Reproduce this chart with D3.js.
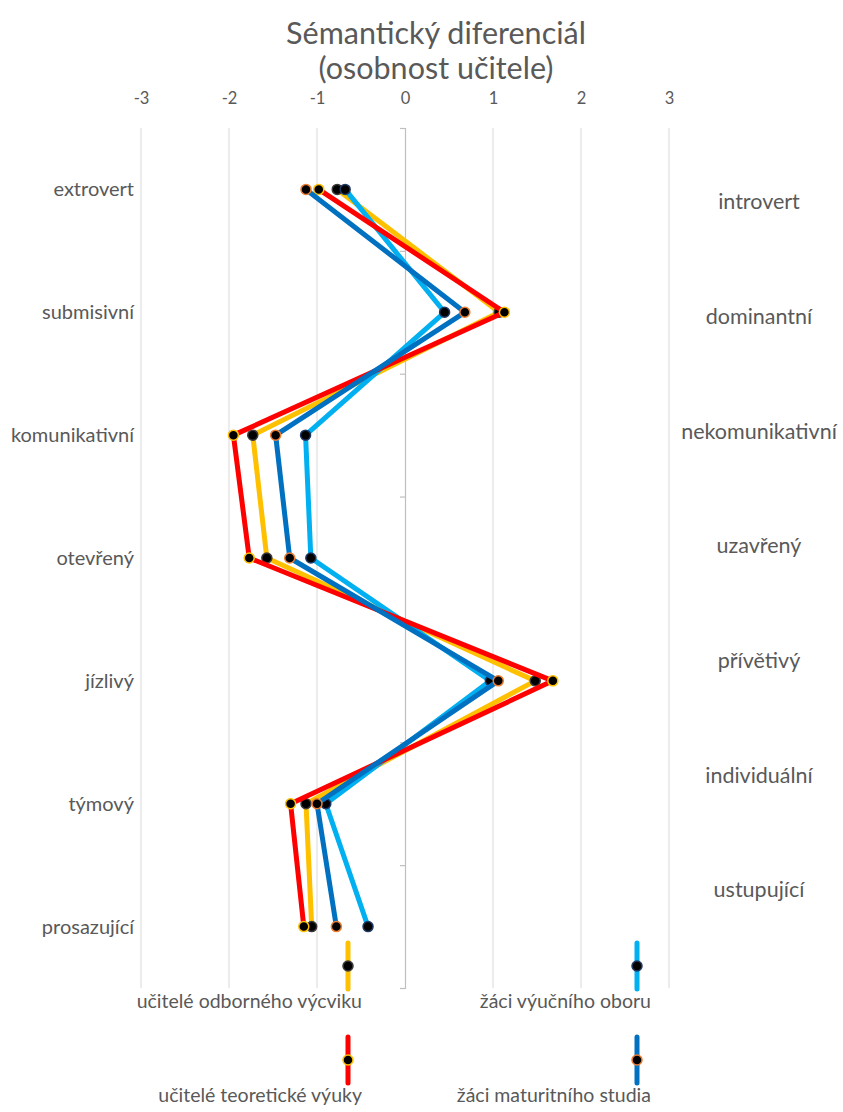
<!DOCTYPE html>
<html>
<head>
<meta charset="utf-8">
<script src="https://cdn.jsdelivr.net/npm/d3@7/dist/d3.min.js"></script>
<style>
  html, body { margin: 0; padding: 0; background: #fff; }
  svg { display: block; font-family: Lato, "Open Sans", sans-serif; }
</style>
</head>
<body>
<svg id="chart" width="843" height="1112"></svg>
<script>
// Pole škály: levý a pravý pól každé dvojice
const leftPoles = ["extrovert", "submisivní", "komunikativní", "otevřený", "jízlivý", "týmový", "prosazující"];
const rightPoles = ["introvert", "dominantní", "nekomunikativní", "uzavřený", "přívětivý", "individuální", "ustupující"];

// Průměrná hodnocení skupin respondentů (škála -3 … 3)
const ucitelOdbornehoVycviku = [-0.77, 1.07, -1.73, -1.57, 1.48, -1.125, -1.06];
const zaciVyucnihoOboru = [-0.68, 0.45, -1.13, -1.07, 0.97, -0.90, -0.42];
const ucitelTeoretickeVyuky = [-0.98, 1.13, -1.95, -1.77, 1.68, -1.30, -1.15];
const zaciMaturitnihoStudia = [-1.125, 0.68, -1.47, -1.31, 1.06, -1.00, -0.78];

const seriesNames = ["učitelé odborného výcviku", "žáci výučního oboru", "učitelé teoretické výuky", "žáci maturitního studia"];
const xTickValues = [-3, -2, -1, 0, 1, 2, 3];
const xTickLabels = ["-3", "-2", "-1", "0", "1", "2", "3"];

const series = [
  { name: seriesNames[0], values: ucitelOdbornehoVycviku, color: "#FFC000", outline: "#3a3a3a" },
  { name: seriesNames[1], values: zaciVyucnihoOboru, color: "#00B0F0", outline: "#1F3864" },
  { name: seriesNames[2], values: ucitelTeoretickeVyuky, color: "#FF0000", outline: "#FFC000" },
  { name: seriesNames[3], values: zaciMaturitnihoStudia, color: "#0070C0", outline: "#ED7D31" }
];

const svg = d3.select("#chart");
const textColor = "#595959";

const x = d3.scaleLinear().domain([-3, 3]).range([141, 669]);
const y = d3.scaleLinear().domain([0, 7]).range([128, 988]);

// Title
const title = svg.append("text")
  .attr("x", 436).attr("text-anchor", "middle")
  .attr("fill", textColor).attr("font-size", 30.5);
title.append("tspan").attr("x", 436).attr("y", 44).text("Sémantický diferenciál");
title.append("tspan").attr("x", 436).attr("y", 79).text("(osobnost učitele)");

// Vertical gridlines
svg.append("g")
  .selectAll("line")
  .data(xTickValues.filter(d => d !== 0))
  .join("line")
  .attr("x1", d => x(d)).attr("x2", d => x(d))
  .attr("y1", y(0)).attr("y2", y(7))
  .attr("stroke", "#d9d9d9").attr("stroke-width", 1);

// Top axis labels
const xAxis = d3.axisTop(x).tickValues(xTickValues).tickSize(0).tickPadding(0)
  .tickFormat((d, i) => xTickLabels[i]);
const gx = svg.append("g").attr("transform", "translate(0,104)").call(xAxis);
gx.select(".domain").remove();
gx.selectAll("text")
  .attr("fill", textColor).attr("font-size", 16.5).attr("font-family", "Lato, sans-serif")
  .attr("dy", 0);

// Vertical axis at zero with small ticks
const yAxis = d3.axisLeft(y).ticks(7).tickSize(5).tickSizeOuter(5).tickFormat("");
const gy = svg.append("g").attr("transform", `translate(${x(0)},0)`).call(yAxis);
gy.selectAll("path, line").attr("stroke", "#bfbfbf").attr("stroke-width", 1.2);

// Left pole labels
svg.append("g")
  .selectAll("text")
  .data(leftPoles)
  .join("text")
  .attr("x", x(-3) - 7)
  .attr("y", (d, i) => y(i + 0.5))
  .attr("dy", "0.35em")
  .attr("text-anchor", "end")
  .attr("fill", textColor).attr("font-size", 20)
  .text(d => d);

// Right pole labels
const yRight = d3.scalePoint().domain(rightPoles).range([y(0.6), y(6.2)]);
svg.append("g")
  .selectAll("text")
  .data(rightPoles)
  .join("text")
  .attr("x", 759)
  .attr("y", d => yRight(d))
  .attr("dy", "0.35em")
  .attr("text-anchor", "middle")
  .attr("fill", textColor).attr("font-size", 21.5)
  .text(d => d);

// Series lines and markers
const line = d3.line()
  .x(d => x(d))
  .y((d, i) => y(i + 0.5));

const seriesG = svg.append("g")
  .selectAll("g")
  .data(series)
  .join("g");

seriesG.append("path")
  .attr("d", d => line(d.values))
  .attr("fill", "none")
  .attr("stroke", d => d.color)
  .attr("stroke-width", 5)
  .attr("stroke-linejoin", "round")
  .attr("stroke-linecap", "round");

seriesG.each(function (s) {
  d3.select(this).selectAll("circle")
    .data(s.values)
    .join("circle")
    .attr("cx", d => x(d))
    .attr("cy", (d, i) => y(i + 0.5))
    .attr("r", 5)
    .attr("fill", "#000")
    .attr("stroke", s.outline)
    .attr("stroke-width", 1.5);
});

// Legend: two columns, two rows
const legend = svg.append("g")
  .selectAll("g")
  .data(series)
  .join("g")
  .attr("transform", (d, i) => `translate(${348 + (i % 2) * 289},${966 + Math.floor(i / 2) * 94})`);

legend.append("line")
  .attr("x1", 0).attr("x2", 0)
  .attr("y1", -23).attr("y2", 23)
  .attr("stroke", d => d.color)
  .attr("stroke-width", 5)
  .attr("stroke-linecap", "round");

legend.append("circle")
  .attr("r", 5)
  .attr("fill", "#000")
  .attr("stroke", d => d.outline)
  .attr("stroke-width", 1.5);

legend.append("text")
  .attr("x", 14)
  .attr("y", 35)
  .attr("dy", "0.35em")
  .attr("text-anchor", "end")
  .attr("fill", textColor).attr("font-size", 19.5)
  .text(d => d.name);
</script>
</body>
</html>
